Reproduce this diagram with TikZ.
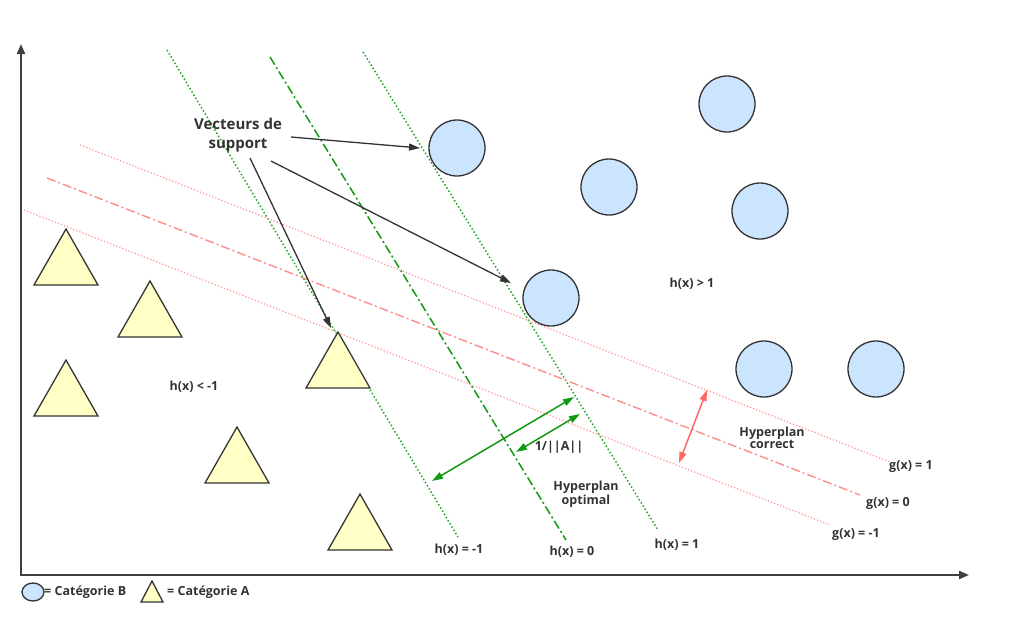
\documentclass[tikz,border=0pt]{standalone}
\usepackage{fontspec}
\setmainfont{Open Sans}
\usetikzlibrary{arrows.meta}
\definecolor{axis}{HTML}{404040}
\definecolor{edge}{HTML}{333333}
\definecolor{bluef}{HTML}{CCE5FF}
\definecolor{yelf}{HTML}{FFFFC6}
\definecolor{gdot}{HTML}{22AA22}
\definecolor{gdash}{HTML}{119911}
\definecolor{rdot}{HTML}{FF9999}
\definecolor{rdash}{HTML}{FF8C8C}
\definecolor{rarr}{HTML}{FF6666}
\tikzset{
  lbl/.style={font=\fontsize{12.5}{11}\selectfont\bfseries, text=edge, inner sep=0pt, align=center},
  bigl/.style={font=\fontsize{15}{19}\selectfont\bfseries, text=edge, inner sep=0pt, align=center},
  catb/.style={circle, draw=edge, line width=1.3pt, fill=bluef, minimum size=56pt, inner sep=0pt},
  cata/.style={draw=edge, line width=1.3pt, fill=yelf, line join=miter},
  gdotted/.style={gdot, line width=1.5pt, dash pattern=on 1.5pt off 2.2pt},
  gdashdot/.style={gdash, line width=1.5pt, dash pattern=on 9pt off 3pt on 2pt off 3pt},
  rdotted/.style={rdot, line width=1.2pt, dash pattern=on 1.3pt off 2pt},
  rdashdot/.style={rdash, line width=1.4pt, dash pattern=on 9pt off 3pt on 2pt off 3pt},
  axisline/.style={axis, line width=2pt, -{Triangle[length=10pt,width=8pt]}},
  ptr/.style={edge, line width=1.3pt, -{Triangle[length=11pt,width=7pt]}},
  garr/.style={gdash, line width=1.5pt, {Triangle[length=11pt,width=7pt]}-{Triangle[length=11pt,width=7pt]}},
  rarrow/.style={rarr, line width=1.5pt, {Triangle[length=11pt,width=7pt]}-{Triangle[length=11pt,width=7pt]}},
}
\begin{document}
\begin{tikzpicture}[x=1pt,y=-1pt]
\useasboundingbox (0,0) rectangle (1015,633);
% axes
\coordinate (O) at (21,575);
\coordinate (Ytop) at (21,44);
\coordinate (Xend) at (969,575);
\draw[axisline] (O) -- (Ytop);
\draw[axisline] ([xshift=-1pt]O) -- (Xend);
% green hyperplanes
\coordinate (hm1a) at (167,50); \coordinate (hm1b) at (458,537);
\coordinate (h0a) at (270,57); \coordinate (h0b) at (566,540);
\coordinate (h1a) at (363,52); \coordinate (h1b) at (658,530);
\draw[gdotted] (hm1a) -- (hm1b);
\draw[gdashdot] (h0a) -- (h0b);
\draw[gdotted] (h1a) -- (h1b);
% red hyperplanes
\coordinate (g1a) at (80,145); \coordinate (g1b) at (890,462);
\coordinate (g0a) at (47,178); \coordinate (g0b) at (860,495);
\coordinate (gm1a) at (24,210); \coordinate (gm1b) at (830,525);
\draw[rdotted] (g1a) -- (g1b);
\draw[rdashdot] (g0a) -- (g0b);
\draw[rdotted] (gm1a) -- (gm1b);
% category B circles
\node[catb] (b1) at (457,148) {};
\node[catb] (b2) at (727,104) {};
\node[catb] (b3) at (609,187) {};
\node[catb] (b4) at (760,211) {};
\node[catb] (b5) at (551,298) {};
\node[catb] (b6) at (764,369) {};
\node[catb] (b7) at (876,369) {};
% category A triangles
\foreach \n/\x/\y in {a1/66/229, a2/150/281, a3/66/360, a4/338/332, a5/237/427, a6/360/494} {
  \draw[cata] (\x,\y) -- (\x+32,\y+56) -- (\x-32,\y+56) -- cycle;
  \coordinate (\n) at (\x,\y);
}
% support vector label and pointers
\node[bigl] (vs) at (238,135) {Vecteurs de\\support};
\coordinate (p1s) at (291,137); \coordinate (p1e) at (420,148);
\coordinate (p2s) at (271,161); \coordinate (p2e) at (511,283);
\coordinate (p3s) at (250,158); \coordinate (p3e) at (331,328);
\draw[ptr] (p1s) -- (p1e);
\draw[ptr] (p2s) -- (p2e);
\draw[ptr] (p3s) -- (p3e);
% margin arrows
\coordinate (m1a) at (432,481); \coordinate (m1b) at (574,397);
\coordinate (m2a) at (516,452); \coordinate (m2b) at (580,414);
\draw[garr] (m1a) -- (m1b);
\draw[garr] (m2a) -- (m2b);
\coordinate (r1a) at (679,463); \coordinate (r1b) at (707,390);
\draw[rarrow] (r1a) -- (r1b);
% labels
\node[lbl] (norm) at (559,447) {1/||A||};
\node[lbl] (hopt) at (586,494) {Hyperplan\\optimal};
\node[lbl] (hcor) at (772,438) {Hyperplan\\correct};
\node[lbl] (lhm1) at (459,550) {h(x) = -1};
\node[lbl] (lh0) at (572,552) {h(x) = 0};
\node[lbl] (lh1) at (677,545) {h(x) = 1};
\node[lbl] (lg1) at (911,467) {g(x) = 1};
\node[lbl] (lg0) at (888,503) {g(x) = 0};
\node[lbl] (lgm1) at (856,535) {g(x) = -1};
\node[lbl] (rneg) at (194,387) {h(x) < -1};
\node[lbl] (rpos) at (692,284) {h(x) > 1};
% legend
\draw[draw=edge, line width=1.3pt, fill=bluef] (33,592) ellipse (11 and 9);
\node[lbl, anchor=west] (legb) at (44,592) {= Catégorie B};
\draw[cata] (152,581) -- (163,602) -- (141,602) -- cycle;
\node[lbl, anchor=west] (lega) at (167,592) {= Catégorie A};
\end{tikzpicture}
\end{document}
